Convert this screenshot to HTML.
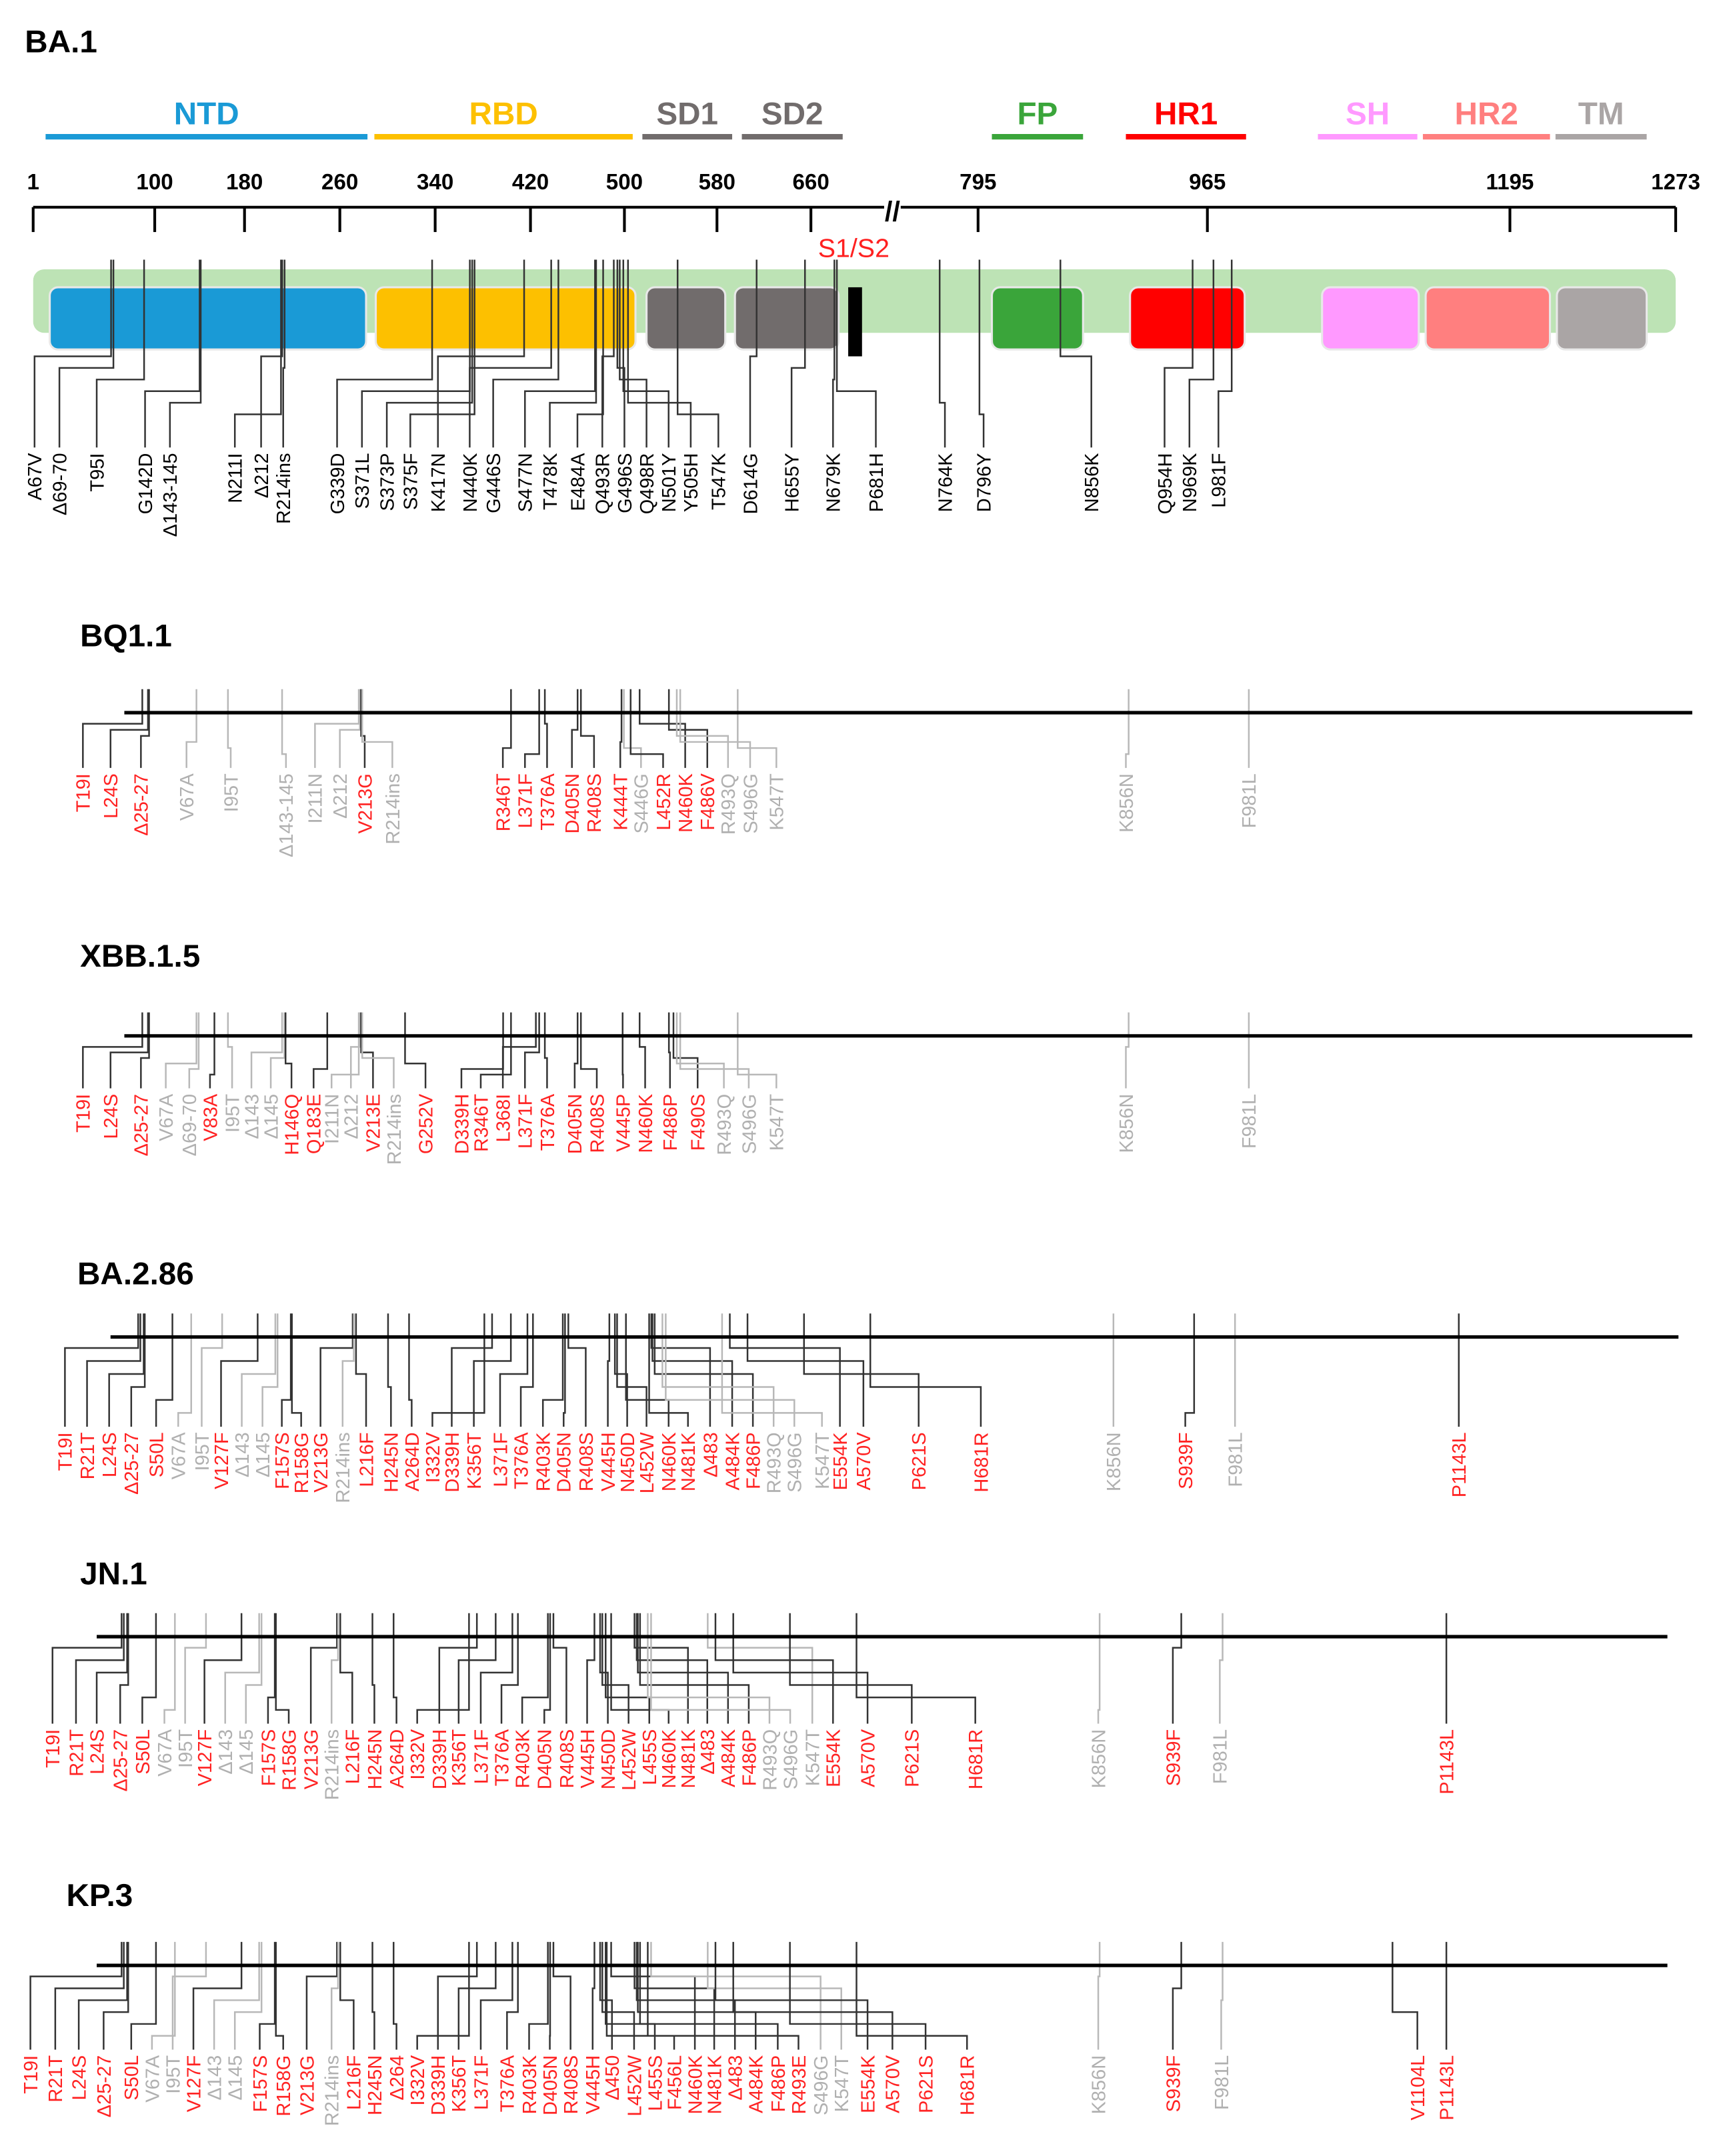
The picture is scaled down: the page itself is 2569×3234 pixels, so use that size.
<!DOCTYPE html>
<html><head><meta charset="utf-8"><style>
html,body{margin:0;padding:0;background:#fff}
svg{display:block}
text{font-family:"Liberation Sans",sans-serif}
</style></head><body>
<svg id="fig" width="2569" height="3234" viewBox="0 0 1240 1561" xmlns="http://www.w3.org/2000/svg">
<g id="ba1">
<text x="18" y="38" font-size="23" font-weight="bold">BA.1</text>
</g>
</svg>
<script>
const NS="http://www.w3.org/2000/svg";
const svg=document.getElementById('fig');
function mk(tag,attrs,parent){const e=document.createElementNS(NS,tag);for(const k in attrs)e.setAttribute(k,attrs[k]);(parent||svg).appendChild(e);return e;}

const domainNames=["NTD","RBD","SD1","SD2","FP","HR1","SH","HR2","TM"];
const domainColors=["#1a9ad6","#fdc000","#716c6c","#716c6c","#3aa53a","#ff0000","#ff99ff","#ff7f7f","#aaa5a5"];
const domainTextColors=["#1a9ad6","#fdc000","#716c6c","#716c6c","#3aa53a","#ff0000","#ff99ff","#ff7f7f","#aaa5a5"];
const domainBars=[[33,266],[271,458],[465,530],[537,610],[718,784],[815,902],[954,1026],[1030,1122],[1126,1192]];
const domainBoxes=[[36,265],[272,460],[468,525],[532,607],[718,784],[818,901],[957,1027],[1032,1122],[1127,1192]];
const tickLabels=["1","100","180","260","340","420","500","580","660","795","965","1195","1273"];
const tickX=[24,112,177,246,315,384,452,519,587,708,874,1093,1213];

const ba1Labels=["A67V","Δ69-70","T95I","G142D","Δ143-145","N211I","Δ212","R214ins","G339D","S371L","S373P","S375F","K417N","N440K","G446S","S477N","T478K","E484A","Q493R","G496S","Q498R","N501Y","Y505H","T547K","D614G","H655Y","N679K","P681H","N764K","D796Y","N856K","Q954H","N969K","L981F"];
const ba1LabelX=[25,43,70,105,123,170,189,205,244,262,280,297,317,340,357,380,398,418,436,452,468,484,500,520,543,573,603,634,684,712,790,843,861,882];

const g1=document.getElementById('ba1');
domainNames.forEach((n,i)=>{
  const b=domainBars[i];
  const l=mk('line',{x1:b[0],x2:b[1],y1:99,y2:99,stroke:domainColors[i],'stroke-width':4},g1);
  
  
  const t=mk('text',{x:(b[0]+b[1])/2,y:90,'font-size':23,'font-weight':'bold','text-anchor':'middle',fill:domainTextColors[i]},g1);
  t.textContent=n;
  
  
});
const ax=mk('path',{d:'M24 150 H640 M652 150 H1213',stroke:'#000','stroke-width':2,fill:'none'},g1);


const br=mk('text',{x:646,y:160,'font-size':20,'font-weight':'bold','text-anchor':'middle'},g1);br.textContent='//';


tickLabels.forEach((tl,i)=>{
  const tk=mk('line',{x1:tickX[i],x2:tickX[i],y1:150,y2:168,stroke:'#000','stroke-width':2},g1);
  
  
  const t=mk('text',{x:tickX[i],y:137,'font-size':16,'font-weight':'bold','text-anchor':'middle'},g1);
  t.textContent=tl;
  
  
});
const s12=mk('text',{x:618,y:186,'font-size':19,fill:'#ff2020','text-anchor':'middle'},g1);s12.textContent='S1/S2';


const gb=mk('rect',{x:24,y:195,width:1189,height:46,rx:8,fill:'#bde3b5'},g1);


domainNames.forEach((n,i)=>{
  const b=domainBoxes[i];
  const r=mk('rect',{x:b[0],y:208,width:b[1]-b[0],height:45,rx:6,fill:domainColors[i],stroke:'#e8e8e8','stroke-width':1.5},g1);
  
  
});
const cs=mk('rect',{x:614,y:208,width:10,height:50,fill:'#000'},g1);



function num(l){const m=l.match(/\d+/);return m?+m[0]:0;}
function interp(anch,r){
  for(let i=0;i<anch.length-1;i++){const a=anch[i],b=anch[i+1];if(r<=b[0]||i==anch.length-2){return a[1]+(r-a[0])*(b[1]-a[1])/(b[0]-a[0]);}}
}
function drawMuts(g,labels,lx,colors,anch,topY,elbTop,elbBot,labelTop,lineW){
  labels.forEach((lab,i)=>{
    const tx=interp(anch,num(lab));
    const x=lx[i];
    const ey=elbTop+((i%6)/5)*(elbBot-elbTop);
    const col=colors?(colors[i]=='r'?'#ff2222':'#b0b0b0'):'#000';
    const lc=colors&&colors[i]=='g'?'#b8b8b8':'#333';
    const p=mk('path',{d:`M${tx.toFixed(1)} ${topY} V${ey.toFixed(1)} H${x} V${labelTop-4}`,stroke:lc,'stroke-width':lineW,fill:'none'},g);
    
    
    const t=mk('text',{x:0,y:0,'font-size':14,'text-anchor':'end',fill:col,transform:`translate(${x+5},${labelTop}) rotate(-90)`},g);
    t.textContent=lab;
    
    
  });
}
drawMuts(g1,ba1Labels,ba1LabelX,null,[[1,24],[660,587],[795,708],[965,874],[1273,1213]],188,258,300,328,1.2);

const bq1Labels=["T19I","L24S","Δ25-27","V67A","I95T","Δ143-145","I211N","Δ212","V213G","R214ins","R346T","L371F","T376A","D405N","R408S","K444T","S446G","L452R","N460K","F486V","R493Q","S496G","K547T","K856N","F981L"];
const bq1Colors=["r","r","r","g","g","g","g","g","r","g","r","r","r","r","r","r","g","r","r","r","g","g","g","g","g"];
const bq1LabelX=[60,80,102,135,167,207,228,246,264,284,364,380,396,414,430,449,464,480,496,512,527,543,562,815,904];

const xbbLabels=["T19I","L24S","Δ25-27","V67A","Δ69-70","V83A","I95T","Δ143","Δ145","H146Q","Q183E","I211N","Δ212","V213E","R214ins","G252V","D339H","R346T","L368I","L371F","T376A","D405N","R408S","V445P","N460K","F486P","F490S","R493Q","S496G","K547T","K856N","F981L"];
const xbbColors=["r","r","r","g","g","r","g","g","g","r","r","g","g","r","g","r","r","r","r","r","r","r","r","r","r","r","r","g","g","g","g","g"];
const xbbLabelX=[60,80,102,120,137,152,168,182,196,211,227,240,254,270,285,308,334,348,364,380,396,416,432,451,467,485,505,524,542,562,815,904];

const ba286Labels=["T19I","R21T","L24S","Δ25-27","S50L","V67A","I95T","V127F","Δ143","Δ145","F157S","R158G","V213G","R214ins","L216F","H245N","A264D","I332V","D339H","K356T","L371F","T376A","R403K","D405N","R408S","V445H","N450D","L452W","N460K","N481K","Δ483","A484K","F486P","R493Q","S496G","K547T","E554K","A570V","P621S","H681R","K856N","S939F","F981L","P1143L"];
const ba286Colors=["r","r","r","r","r","g","g","r","g","g","r","r","r","g","r","r","r","r","r","r","r","r","r","r","r","r","r","r","r","r","r","r","r","g","g","g","r","r","r","r","g","r","g","r"];
const ba286LabelX=[47,63,79,95,113,129,146,160,175,190,204,218,232,248,265,283,298,313,327,343,362,377,393,408,424,440,454,468,484,498,514,530,545,560,575,595,608,625,665,710,806,858,894,1056];

const jn1Labels=["T19I","R21T","L24S","Δ25-27","S50L","V67A","I95T","V127F","Δ143","Δ145","F157S","R158G","V213G","R214ins","L216F","H245N","A264D","I332V","D339H","K356T","L371F","T376A","R403K","D405N","R408S","V445H","N450D","L452W","L455S","N460K","N481K","Δ483","A484K","F486P","R493Q","S496G","K547T","E554K","A570V","P621S","H681R","K856N","S939F","F981L","P1143L"];
const jn1Colors=["r","r","r","r","r","g","g","r","g","g","r","r","r","g","r","r","r","r","r","r","r","r","r","r","r","r","r","r","r","r","r","r","r","r","g","g","g","r","r","r","r","g","r","g","r"];
const jn1LabelX=[38,55,70,87,103,119,134,148,163,178,194,209,225,240,255,271,287,302,318,332,348,363,378,394,410,425,440,455,470,484,498,512,527,542,557,572,588,603,628,660,706,795,849,883,1047];

const kp3Labels=["T19I","R21T","L24S","Δ25-27","S50L","V67A","I95T","V127F","Δ143","Δ145","F157S","R158G","V213G","R214ins","L216F","H245N","Δ264","I332V","D339H","K356T","L371F","T376A","R403K","D405N","R408S","V445H","Δ450","L452W","L455S","F456L","N460K","N481K","Δ483","A484K","F486P","R493E","S496G","K547T","E554K","A570V","P621S","H681R","K856N","S939F","F981L","V1104L","P1143L"];
const kp3Colors=["r","r","r","r","r","g","g","r","g","g","r","r","r","g","r","r","r","r","r","r","r","r","r","r","r","r","r","r","r","r","r","r","r","r","r","r","g","g","r","r","r","r","g","r","g","r","r"];
const kp3LabelX=[22,40,57,75,95,110,125,140,155,170,188,205,222,240,256,271,287,302,317,332,348,367,383,398,413,429,443,459,474,488,503,517,532,547,563,578,594,609,628,646,670,700,795,849,884,1026,1047];

const panels=[
 {name:"BQ1.1",tx:58,ty:468,lineY:516,x1:90,x2:1225,labels:bq1Labels,colors:bq1Colors,lx:bq1LabelX,anch:[[19,103],[547,534],[856,817],[981,904]],labelTop:560},
 {name:"XBB.1.5",tx:58,ty:700,lineY:750,x1:90,x2:1225,labels:xbbLabels,colors:xbbColors,lx:xbbLabelX,anch:[[19,103],[547,534],[856,817],[981,904]],labelTop:792},
 {name:"BA.2.86",tx:56,ty:930,lineY:968,x1:80,x2:1215,labels:ba286Labels,colors:ba286Colors,lx:ba286LabelX,anch:[[19,100],[681,630],[856,806],[981,894],[1143,1056]],labelTop:1037},
 {name:"JN.1",tx:58,ty:1147,lineY:1185,x1:70,x2:1207,labels:jn1Labels,colors:jn1Colors,lx:jn1LabelX,anch:[[19,88],[681,620],[856,796],[981,885],[1143,1047]],labelTop:1252},
 {name:"KP.3",tx:48,ty:1380,lineY:1423,x1:70,x2:1207,labels:kp3Labels,colors:kp3Colors,lx:kp3LabelX,anch:[[19,88],[681,620],[856,796],[981,885],[1143,1047]],labelTop:1488}
];
panels.forEach(p=>{
  const g=mk('g',{});
  
  
  const t=mk('text',{x:p.tx,y:p.ty,'font-size':23,'font-weight':'bold'},g);
  t.textContent=p.name;
  
  
  drawMuts(g,p.labels,p.lx,p.colors,p.anch,p.lineY-17,p.lineY+8,p.labelTop-14,p.labelTop,1.2);
  const l=mk('line',{x1:p.x1,x2:p.x2,y1:p.lineY,y2:p.lineY,stroke:'#000','stroke-width':2.5},g);
  
  
});
</script>
</body></html>
